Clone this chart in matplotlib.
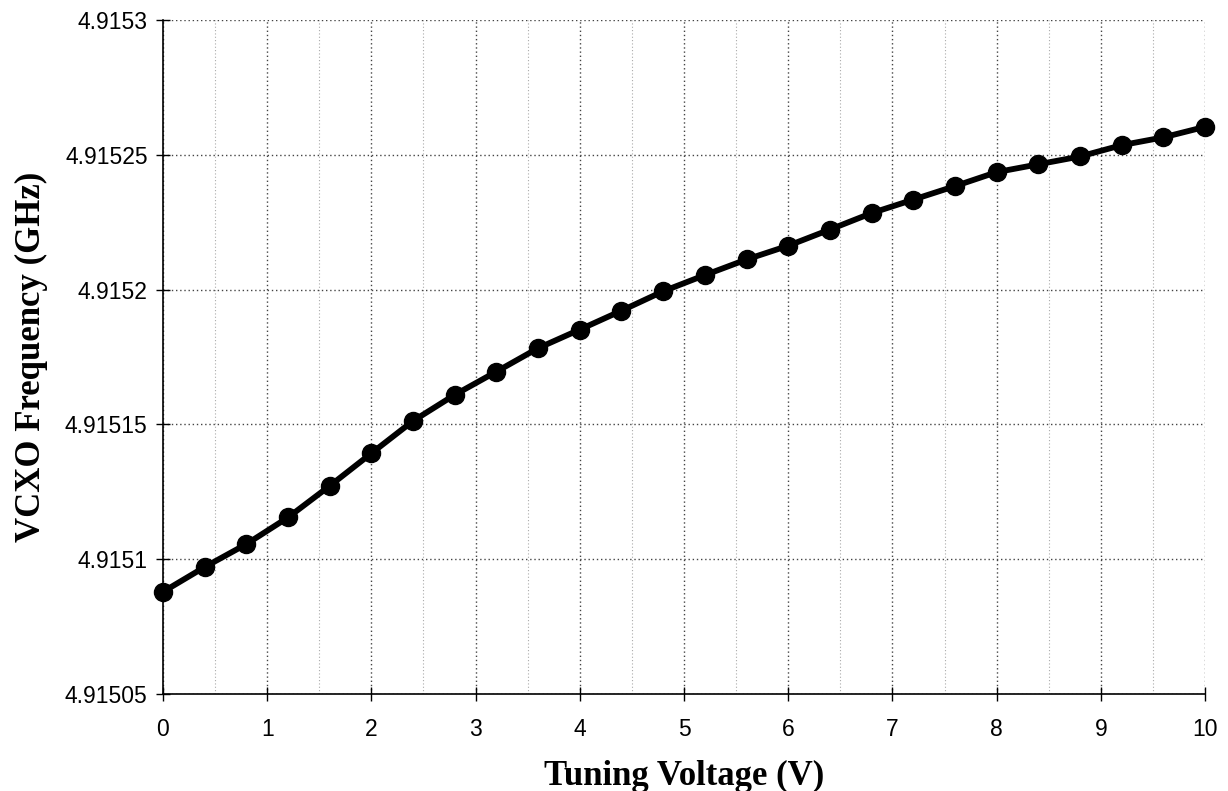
import matplotlib
matplotlib.use("Agg")
import matplotlib.pyplot as plt
from matplotlib.ticker import MultipleLocator, FuncFormatter

voltage = [0, 0.4, 0.8, 1.2, 1.6, 2.0, 2.4, 2.8, 3.2, 3.6, 4.0, 4.4, 4.8,
           5.2, 5.6, 6.0, 6.4, 6.8, 7.2, 7.6, 8.0, 8.4, 8.8, 9.2, 9.6, 10.0]
freq_ghz = [4.9150879, 4.9150971, 4.9151056, 4.9151155, 4.9151272, 4.9151393,
            4.9151513, 4.9151610, 4.9151696, 4.9151783, 4.9151852, 4.9151922,
            4.9151994, 4.9152054, 4.9152112, 4.9152163, 4.9152223, 4.9152284,
            4.9152334, 4.9152384, 4.9152436, 4.9152465, 4.9152494, 4.9152536,
            4.9152565, 4.9152604]

fig = plt.figure(figsize=(12.28, 7.91), dpi=100)
ax = fig.add_axes([0.1327, 0.1226, 0.8486, 0.852])

ax.plot(voltage, freq_ghz, color="black", linewidth=4.2, marker="o",
        markersize=13, markerfacecolor="black", markeredgecolor="black",
        solid_joinstyle="round", zorder=5, clip_on=False)

ax.set_xlim(0, 10)
ax.set_ylim(4.91505, 4.9153)
ax.xaxis.set_major_locator(MultipleLocator(1))
ax.xaxis.set_minor_locator(MultipleLocator(0.5))
ax.yaxis.set_major_locator(MultipleLocator(0.00005))

def yfmt(v, pos):
    s = "%.5f" % v
    return s.rstrip("0").rstrip(".")
ax.yaxis.set_major_formatter(FuncFormatter(yfmt))

ax.grid(True, which="major", axis="both", color="#444444", linestyle=(0, (1, 2)), linewidth=1.0)
ax.grid(True, which="minor", axis="x", color="#aaaaaa", linestyle=(0, (1, 2)), linewidth=0.8)

for side in ("top", "right"):
    ax.spines[side].set_visible(False)
for side in ("left", "bottom"):
    ax.spines[side].set_linewidth(1.2)
    ax.spines[side].set_color("black")

ax.tick_params(axis="both", which="major", direction="inout", length=10, width=1.0,
               labelsize=16.5, pad=6)
ax.tick_params(axis="x", which="minor", length=0)
for lab in ax.get_xticklabels() + ax.get_yticklabels():
    lab.set_fontfamily("Liberation Sans")
ax.tick_params(axis="x", pad=12)

ax.set_xlabel("Tuning Voltage (V)", fontfamily="Liberation Serif", fontweight="bold",
              fontsize=25, labelpad=14)
ax.set_ylabel("VCXO Frequency (GHz)", fontfamily="Liberation Serif", fontweight="bold",
              fontsize=25, labelpad=12)

fig.savefig("out.png", dpi=100, facecolor="white")
